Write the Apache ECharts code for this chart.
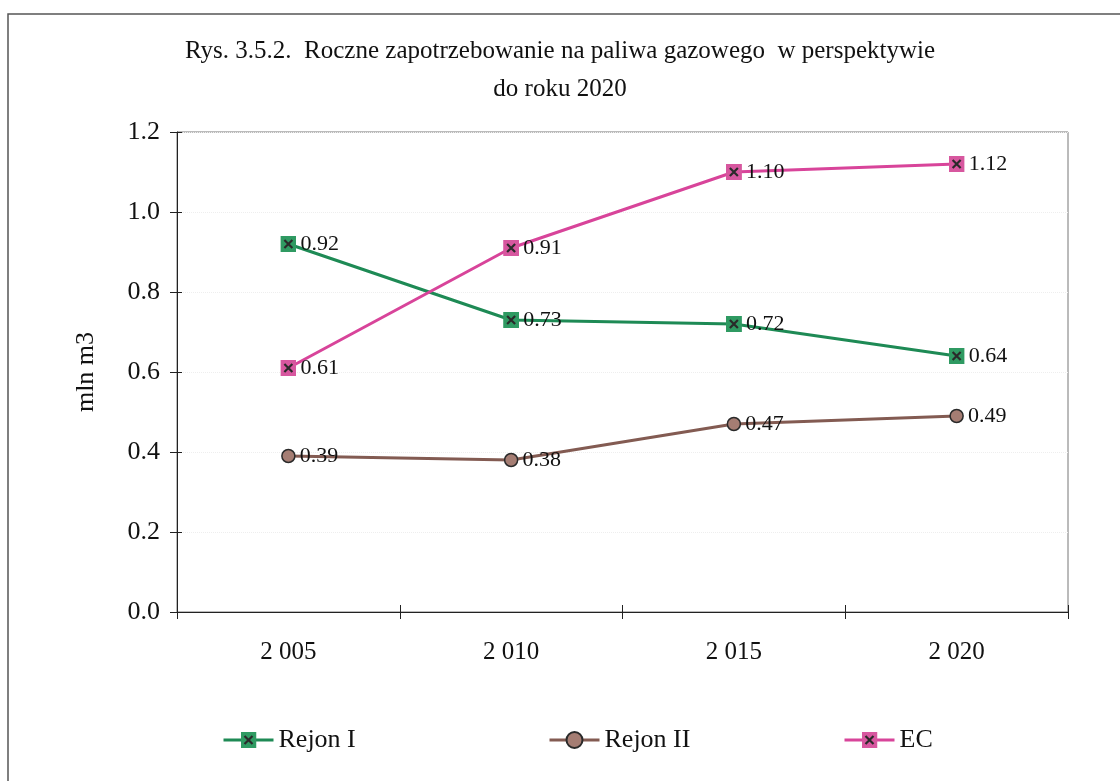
<!DOCTYPE html>
<html>
<head>
<meta charset="utf-8">
<script src="https://cdn.jsdelivr.net/npm/echarts@6/dist/echarts.min.js"></script>
<style>
html,body{margin:0;padding:0;background:#fff;}
#chart{width:1120px;height:781px;}
</style>
</head>
<body>
<div id="chart"></div>
<script>
var categories = ['2 005', '2 010', '2 015', '2 020'];
var rejonI = [0.92, 0.73, 0.72, 0.64];
var rejonII = [0.39, 0.38, 0.47, 0.49];
var ec = [0.61, 0.91, 1.10, 1.12];
var seriesNames = ['Rejon I', 'Rejon II', 'EC'];
var titleText = 'Rys. 3.5.2.  Roczne zapotrzebowanie na paliwa gazowego  w perspektywie\ndo roku 2020';
var yAxisName = 'mln m3';

var FONT = '"Liberation Serif", "DejaVu Serif", serif';

function squareX(fill) {
  var svg = '<svg xmlns="http://www.w3.org/2000/svg" width="16" height="16" viewBox="0 0 16 16">' +
    '<rect x="0" y="0" width="16" height="16" fill="' + fill + '"/>' +
    '<path d="M4,4L12,12M12,4L4,12" stroke="#2a2a2a" stroke-width="2.2"/></svg>';
  return 'image://data:image/svg+xml;charset=utf-8,' + encodeURIComponent(svg);
}

var chart = echarts.init(document.getElementById('chart'), null, {renderer: 'canvas'});

var labelStyle = {
  show: true,
  position: 'right',
  distance: 4,
  color: '#111',
  fontFamily: FONT,
  fontSize: 22,
  formatter: function (p) { return p.value.toFixed(2); }
};

var option = {
  backgroundColor: '#fff',
  animation: false,
  title: {
    text: titleText,
    left: 'center',
    top: 27,
    textStyle: {
      fontFamily: FONT,
      fontSize: 25,
      fontWeight: 'normal',
      color: '#111',
      lineHeight: 38
    }
  },
  graphic: [{
    type: 'rect',
    shape: {x: 8, y: 14, width: 1130, height: 800},
    style: {fill: 'none', stroke: '#555', lineWidth: 1.5},
    silent: true,
    z: -1
  }],
  legend: [
    {data: [seriesNames[0]], left: 217, top: 722},
    {data: [seriesNames[1]], left: 543, top: 722},
    {data: [seriesNames[2]], left: 838, top: 722}
  ].map(function (l) {
    l.itemWidth = 50;
    l.itemHeight = 20;
    l.itemGap = 6;
    l.lineStyle = {width: 3};
    l.textStyle = {fontFamily: FONT, fontSize: 26, color: '#111'};
    return l;
  }),
  grid: {
    left: 177,
    right: 52,
    top: 132,
    bottom: 169,
    show: true,
    borderColor: '#777',
    borderWidth: 1
  },
  xAxis: [{
    type: 'category',
    data: categories,
    boundaryGap: true,
    axisLine: {lineStyle: {color: '#222', width: 1}},
    axisTick: {show: true, length: 7, lineStyle: {color: '#222'}},
    axisLabel: {fontFamily: FONT, fontSize: 25, color: '#111', margin: 28},
    splitLine: {show: false}
  }, {
    type: 'category',
    data: categories,
    position: 'bottom',
    boundaryGap: true,
    axisLine: {show: false},
    axisTick: {show: true, inside: true, length: 7, lineStyle: {color: '#222'}},
    axisLabel: {show: false},
    splitLine: {show: false}
  }],
  yAxis: [{
    type: 'value',
    min: 0,
    max: 1.2,
    interval: 0.2,
    name: yAxisName,
    nameLocation: 'middle',
    nameGap: 78,
    nameRotate: 90,
    nameTextStyle: {fontFamily: FONT, fontSize: 26, color: '#111'},
    axisLine: {show: true, lineStyle: {color: '#222', width: 1}},
    axisTick: {show: true, length: 7, lineStyle: {color: '#222'}},
    axisLabel: {
      fontFamily: FONT, fontSize: 26, color: '#111', margin: 17,
      formatter: function (v) { return v.toFixed(1); }
    },
    splitLine: {show: true, lineStyle: {color: '#eeeeee', type: 'dotted', width: 1}}
  }, {
    type: 'value',
    min: 0,
    max: 1.2,
    interval: 0.2,
    position: 'left',
    axisLine: {show: false},
    axisTick: {show: true, inside: true, length: 5, lineStyle: {color: '#222'}},
    axisLabel: {show: false},
    splitLine: {show: false}
  }],
  series: [{
    name: seriesNames[0],
    type: 'line',
    data: rejonI,
    symbol: squareX('#2f9a62'),
    symbolSize: 16,
    lineStyle: {color: '#1e8a55', width: 3},
    itemStyle: {color: '#1e8a55'},
    label: labelStyle,
    z: 3
  }, {
    name: seriesNames[1],
    type: 'line',
    data: rejonII,
    symbol: 'circle',
    symbolSize: 13,
    lineStyle: {color: '#835b52', width: 3},
    itemStyle: {color: '#a57d73', borderColor: '#2a2a2a', borderWidth: 1.5},
    label: labelStyle,
    z: 3
  }, {
    name: seriesNames[2],
    type: 'line',
    data: ec,
    symbol: squareX('#d7579f'),
    symbolSize: 16,
    lineStyle: {color: '#d8449a', width: 3},
    itemStyle: {color: '#d8449a'},
    label: labelStyle,
    z: 3
  }]
};

chart.setOption(option);
</script>
</body>
</html>
